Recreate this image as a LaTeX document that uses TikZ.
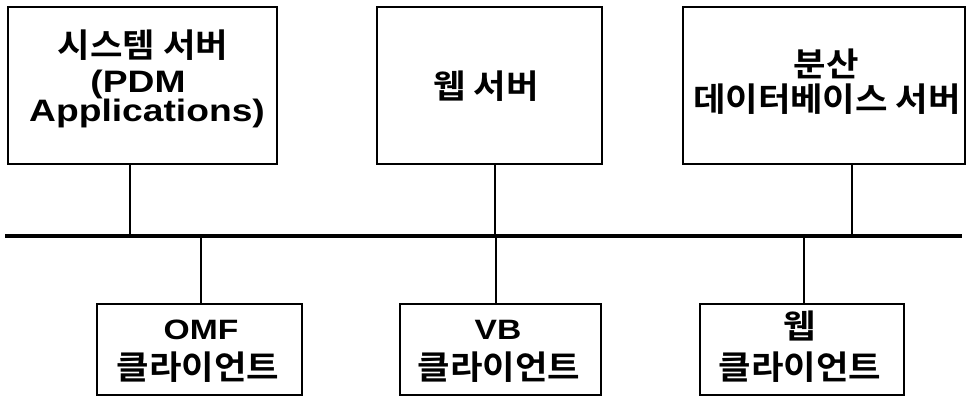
\documentclass[tikz,border=0pt]{standalone}
\usepackage{fontspec}
\setmainfont{Liberation Sans}
\newfontfamily\lat{Liberation Sans}[FakeStretch=1.2]
\newfontfamily\kr{Noto Sans CJK KR}[BoldFont={Noto Sans CJK KR Bold},FakeStretch=1.07]
\begin{document}
\begin{tikzpicture}[x=1pt,y=-1pt,
  box/.style={draw=black, line width=1.3pt, rectangle, inner sep=0pt},
  txt/.style={anchor=base, inner sep=0pt},
  latbig/.style={txt, align=center, font=\lat\bfseries\fontsize{31}{29}\selectfont},
  latsmall/.style={txt, font=\lat\bfseries\fontsize{28}{28}\selectfont},
  kor/.style={txt, font=\kr\bfseries\fontsize{33}{33}\selectfont},
  link/.style={draw=black, line width=1.3pt},
  bus/.style={draw=black, line width=3.6pt}]
\useasboundingbox (0,0) rectangle (967,399);
% top servers
\node[box, minimum width=269pt, minimum height=157pt] (s1) at (142.5,85.5) {};
\node[kor]    (s1a) at (143,57)  {시스템 서버};
\node[latbig] (s1b) at (147,121) {\hspace*{-18pt}(PDM\\Applications)};
\node[box, minimum width=225pt, minimum height=157pt] (s2) at (489.5,85.5) {};
\node[kor]    (s2a) at (486,98)  {웹 서버};
\node[box, minimum width=282pt, minimum height=157pt] (s3) at (824,85.5) {};
\node[kor]    (s3a) at (826,76)  {분산};
\node[kor]    (s3b) at (827,111) {데이터베이스 서버};
% clients
\node[box, minimum width=205pt, minimum height=91pt] (c1) at (199.5,349.5) {};
\node[latsmall] (c1a) at (201,339) {OMF};
\node[kor]      (c1b) at (198,379) {클라이언트};
\node[box, minimum width=201pt, minimum height=91pt] (c2) at (500.5,349.5) {};
\node[latsmall] (c2a) at (498,339) {VB};
\node[kor]      (c2b) at (499,379) {클라이언트};
\node[box, minimum width=204pt, minimum height=91pt] (c3) at (802,349.5) {};
\node[kor]      (c3a) at (800,338) {웹};
\node[kor]      (c3b) at (800,379) {클라이언트};
% bus
\coordinate (busL) at (5,236);
\coordinate (busR) at (962,236);
\draw[bus] (busL) -- (busR);
\coordinate (t1) at (130,236);
\coordinate (t2) at (495,236);
\coordinate (t3) at (852,236);
\coordinate (b1) at (201,236);
\coordinate (b2) at (496,236);
\coordinate (b3) at (804,236);
\draw[link] (t1 |- s1.south) -- (t1);
\draw[link] (t2 |- s2.south) -- (t2);
\draw[link] (t3 |- s3.south) -- (t3);
\draw[link] (b1) -- (b1 |- c1.north);
\draw[link] (b2) -- (b2 |- c2.north);
\draw[link] (b3) -- (b3 |- c3.north);
\end{tikzpicture}
\end{document}
